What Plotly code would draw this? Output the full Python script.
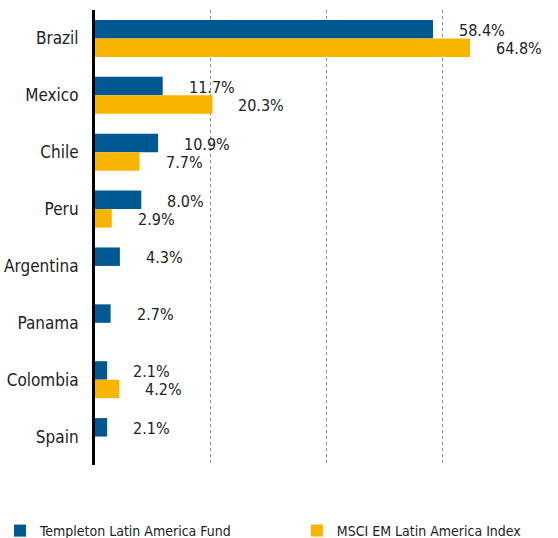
import plotly.graph_objects as go

countries = ["Brazil", "Mexico", "Chile", "Peru", "Argentina", "Panama", "Colombia", "Spain"]
fund = [58.4, 11.7, 10.9, 8.0, 4.3, 2.7, 2.1, 2.1]
index = [64.8, 20.3, 7.7, 2.9, None, None, 4.2, None]

fund_name = "Templeton Latin America Fund"
index_name = "MSCI EM Latin America Index"

FONT = "DejaVu Sans Condensed, Liberation Sans Narrow, sans-serif"
BLUE = "#005892"
GOLD = "#f7b500"

fig = go.Figure()
fig.add_trace(go.Bar(y=countries, x=fund, name=fund_name, orientation="h",
                     marker_color=BLUE, marker_line_width=0, legend="legend"))
fig.add_trace(go.Bar(y=countries, x=index, name=index_name, orientation="h",
                     marker_color=GOLD, marker_line_width=0, legend="legend2"))

# value labels sit a little right of each bar end
for c, v in zip(countries, fund):
    fig.add_annotation(x=v, y=c, text=f"{v:.1f}%", xanchor="left", showarrow=False,
                       xshift=24, yshift=8, font=dict(size=16, color="#222"))
for c, v in zip(countries, index):
    if v is None:
        continue
    fig.add_annotation(x=v, y=c, text=f"{v:.1f}%", xanchor="left", showarrow=False,
                       xshift=24, yshift=-10, font=dict(size=16, color="#222"))

legend_style = dict(orientation="h", xref="container", yref="container",
                    y=0.013, yanchor="middle", xanchor="left",
                    font=dict(size=14, color="#222"), bgcolor="rgba(0,0,0,0)")

fig.update_layout(
    width=558, height=538,
    barmode="group", bargap=0.35, bargroupgap=0,
    plot_bgcolor="white", paper_bgcolor="white",
    margin=dict(l=95, r=0, t=10, b=73, autoexpand=False),
    font=dict(family=FONT, size=17, color="#222"),
    showlegend=True,
    legend=dict(x=-0.006, **legend_style),
    legend2=dict(x=0.532, **legend_style),
)
fig.update_xaxes(range=[0, 80], showticklabels=False, showgrid=True,
                 gridcolor="#888", griddash="dot", gridwidth=1,
                 tickvals=[20, 40, 60, 80], zeroline=False)
fig.update_yaxes(autorange="reversed", showline=True, linecolor="black", linewidth=3,
                 ticks="", ticklabelstandoff=10, showgrid=False)

fig.write_html("out.html", config={"displayModeBar": False},
               post_script="document.body.style.margin='0';")
